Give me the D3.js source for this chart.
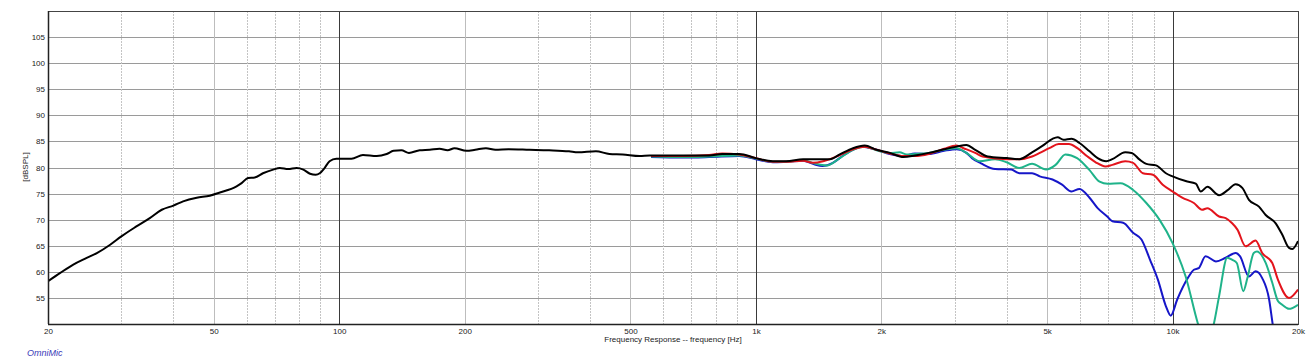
<!DOCTYPE html>
<html>
<head>
<meta charset="utf-8">
<script src="https://cdn.jsdelivr.net/npm/d3@7"></script>
<style>
  body { margin: 0; background: #fff; }
  svg { display: block; font-family: "Liberation Sans", Arial, sans-serif; }
  .tick text { font-size: 8px; fill: #222; }
  .domain { display: none; }
</style>
</head>
<body>
<svg id="chart" width="1311" height="361"></svg>
<script>
// tick values / labels
const yTicks = [55, 60, 65, 70, 75, 80, 85, 90, 95, 100, 105];
const xTicks = [20, 50, 100, 200, 500, 1000, 2000, 5000, 10000, 20000];
const xTickLabels = ["20", "50", "100", "200", "500", "1k", "2k", "5k", "10k", "20k"];
const decadeLines = [100, 1000, 10000];
const minorLines = [30, 40, 60, 70, 80, 90, 300, 400, 600, 700, 800, 900,
  3000, 4000, 6000, 7000, 8000, 9000];

// series: [frequency Hz, dBSPL]
const blackCurve = [[20,58.2],[21.4,59.8],[23,61.4],[24.5,62.5],[26.2,63.6],[28.2,65.2],[30,66.8],[32.6,68.7],
  [35.1,70.3],[37.5,71.9],[40,72.7],[42.2,73.5],[45.5,74.2],[48.9,74.6],[51.7,75.2],[56.7,76.4],[58.3,77.0],
  [60.4,78.0],[62.7,78.1],[65.6,78.9],[69.4,79.6],[72,79.9],[75.4,79.7],[79,79.9],[82,79.6],[85.1,78.8],
  [87.8,78.6],[89.8,78.9],[92.2,79.9],[94.8,81.2],[98.4,81.7],[107,81.7],[114,82.4],[123,82.2],[130,82.6],
  [135,83.2],[141,83.3],[147,82.8],[156,83.3],[165,83.4],[174,83.6],[182,83.3],[189,83.7],[202,83.2],
  [212,83.4],[225,83.7],[237,83.4],[255,83.5],[286,83.4],[319,83.3],[356,83.1],[374,82.9],[413,83.1],
  [445,82.6],[479,82.5],[526,82.2],[556,82.3],[667,82.3],[772,82.3],[830,82.6],[912,82.6],[1000,81.8],
  [1098,81.2],[1182,81.2],[1298,81.6],[1505,81.6],[1590,82.5],[1710,83.7],[1824,84.2],[1947,83.4],
  [2096,82.8],[2260,82.0],[2408,82.3],[2600,82.8],[2830,83.5],[3032,84.0],[3200,84.3],[3360,83.4],
  [3600,82.1],[4000,81.8],[4286,81.6],[4600,82.9],[4880,84.2],[5150,85.5],[5300,85.8],[5470,85.3],
  [5720,85.5],[5980,84.7],[6320,83.1],[6610,81.8],[6930,81.2],[7170,81.6],[7700,82.9],[7970,82.8],
  [8340,81.5],[8650,80.7],[9130,80.4],[9640,78.9],[10000,78.3],[10750,77.4],[11370,76.9],[11690,75.4],
  [12120,76.3],[12930,74.7],[13530,75.6],[14170,76.8],[14700,76.1],[15250,73.8],[16120,72.5],[16730,70.9],
  [17680,69.3],[18340,67.1],[19030,64.6],[19400,64.4],[20000,65.9]];

const redCurve = [[560,82.2],[667,82.2],[772,82.4],[830,82.7],[912,82.5],[1000,81.8],[1098,81.1],[1182,81.1],
  [1298,81.3],[1370,80.9],[1450,81.2],[1590,82.4],[1710,83.5],[1824,84.0],[1947,83.4],[2096,82.7],
  [2260,82.2],[2408,82.2],[2600,82.6],[2830,83.6],[3032,84.2],[3150,83.7],[3360,82.8],[3500,82.1],
  [4000,81.6],[4286,81.6],[4600,82.1],[4800,82.8],[5060,83.7],[5330,84.5],[5640,84.5],[5910,83.7],
  [6250,82.1],[6540,81.0],[6900,80.2],[7170,80.5],[7700,81.2],[8040,80.9],[8490,78.9],[8970,78.6],
  [9470,76.7],[10000,75.4],[10570,74.2],[11250,73.2],[11770,71.9],[12120,72.2],[12930,70.6],[13410,70.3],
  [13900,69.3],[14310,68.1],[14970,64.9],[15820,66.0],[16410,63.6],[17350,61.7],[17900,58.5],
  [19030,55.0],[20000,56.6]];

const greenCurve = [[560,82.1],[667,82.0],[772,82.1],[912,82.3],[1000,81.7],[1098,81.1],[1182,81.1],
  [1298,81.4],[1380,80.8],[1480,80.4],[1590,81.8],[1710,83.4],[1824,84.0],[1947,83.3],[2096,82.8],
  [2213,82.9],[2300,82.5],[2408,82.6],[2600,82.8],[2830,83.4],[3032,83.7],[3200,82.8],[3440,81.2],
  [3750,81.6],[4000,81.0],[4286,79.9],[4600,80.7],[4970,79.6],[5240,80.5],[5530,82.5],[5900,81.8],
  [6320,79.5],[6680,77.3],[6990,76.9],[7500,77.0],[8040,75.7],[8650,73.2],[9300,70.0],[10000,65.5],
  [10750,59.1],[11490,50.2],[11960,46],[12550,49.9],[12930,55.3],[13530,62.7],[13910,62.3],[14260,61.7],
  [14780,56.3],[15120,58.8],[15660,63.6],[15940,63.9],[16730,61.7],[17350,57.9],[17900,54.4],
  [18330,53.7],[19030,52.9],[20000,53.7]];

const blueCurve = [[560,82.0],[667,81.9],[772,82.0],[912,82.2],[1000,81.6],[1098,81.0],[1182,81.1],
  [1298,81.3],[1380,80.6],[1446,80.3],[1530,80.9],[1620,82.3],[1710,83.4],[1800,84.0],[1947,83.4],
  [2096,82.6],[2260,82.2],[2408,82.7],[2600,82.6],[2830,83.2],[3032,83.5],[3200,82.8],[3300,81.8],
  [3470,80.8],[3750,79.7],[4100,79.6],[4286,78.9],[4600,78.9],[4800,78.3],[5150,77.7],[5430,76.7],
  [5720,75.4],[5980,75.9],[6320,74.2],[6610,72.2],[6970,70.6],[7170,69.7],[7610,69.4],[8040,67.5],
  [8420,66.2],[8830,62.3],[9220,58.5],[9640,53.4],[9900,51.6],[10260,54.7],[10880,58.8],[11250,60.4],
  [11550,60.7],[12000,63.0],[12710,62.0],[13410,62.7],[14170,63.6],[14510,63.0],[15250,59.1],
  [15820,60.1],[16410,58.8],[17050,54.7],[17350,50.5],[17680,46]];

const series = [
  { name: "blue", data: blueCurve, color: "#1616c8" },
  { name: "green", data: greenCurve, color: "#1fb38a" },
  { name: "red", data: redCurve, color: "#e3141c" },
  { name: "black", data: blackCurve, color: "#000000" }
];

const svg = d3.select("#chart");
const margin = { top: 11, right: 13, bottom: 37, left: 48 };
const width = 1311, height = 361;

const x = d3.scaleLog()
  .domain([20, 20000])
  .range([margin.left, width - margin.right]);

const y = d3.scaleLinear()
  .domain([50, 110])
  .range([height - margin.bottom, margin.top]);

const plotW = x.range()[1] - x.range()[0];
const plotH = y.range()[0] - y.range()[1];

// horizontal grid
svg.append("g")
  .selectAll("line")
  .data(yTicks)
  .join("line")
  .attr("x1", x.range()[0]).attr("x2", x.range()[1])
  .attr("y1", d => Math.round(y(d)) + 0.5).attr("y2", d => Math.round(y(d)) + 0.5)
  .attr("stroke", "#9a9a9a");

// minor vertical grid (dotted)
svg.append("g")
  .selectAll("line")
  .data(minorLines)
  .join("line")
  .attr("x1", d => Math.round(x(d)) + 0.5).attr("x2", d => Math.round(x(d)) + 0.5)
  .attr("y1", y.range()[1]).attr("y2", y.range()[0])
  .attr("stroke", "#c4c4c4")
  .attr("stroke-dasharray", "2,1");

// labelled vertical grid
svg.append("g")
  .selectAll("line")
  .data(xTicks.filter(d => !decadeLines.includes(d)))
  .join("line")
  .attr("x1", d => Math.round(x(d)) + 0.5).attr("x2", d => Math.round(x(d)) + 0.5)
  .attr("y1", y.range()[1]).attr("y2", y.range()[0])
  .attr("stroke", "#bdbdbd");

// decade lines
svg.append("g")
  .selectAll("line")
  .data(decadeLines)
  .join("line")
  .attr("x1", d => Math.round(x(d)) + 0.5).attr("x2", d => Math.round(x(d)) + 0.5)
  .attr("y1", y.range()[1]).attr("y2", y.range()[0])
  .attr("stroke", "#3a3a3a");

// curves
svg.append("clipPath").attr("id", "plot-clip")
  .append("rect")
  .attr("x", x.range()[0]).attr("y", y.range()[1])
  .attr("width", plotW).attr("height", plotH);

const line = d3.line()
  .x(d => x(d[0]))
  .y(d => y(d[1]))
  .curve(d3.curveMonotoneX);

svg.append("g")
  .attr("clip-path", "url(#plot-clip)")
  .selectAll("path")
  .data(series)
  .join("path")
  .attr("d", d => line(d.data))
  .attr("fill", "none")
  .attr("stroke", d => d.color)
  .attr("stroke-width", 2)
  .attr("stroke-linejoin", "round");

// frame
svg.append("rect")
  .attr("x", x.range()[0] + 0.5).attr("y", y.range()[1] + 0.5)
  .attr("width", plotW).attr("height", plotH)
  .attr("fill", "none")
  .attr("stroke", "#444");
svg.append("line")
  .attr("x1", x.range()[0]).attr("x2", x.range()[1])
  .attr("y1", y.range()[0] + 0.5).attr("y2", y.range()[0] + 0.5)
  .attr("stroke", "#222").attr("stroke-width", 1.5);
svg.append("line")
  .attr("x1", x.range()[0] + 0.5).attr("x2", x.range()[0] + 0.5)
  .attr("y1", y.range()[1]).attr("y2", y.range()[0])
  .attr("stroke", "#222").attr("stroke-width", 1.5);

// axes
svg.append("g")
  .attr("transform", `translate(${x.range()[0] - 3},0)`)
  .call(d3.axisLeft(y).tickValues(yTicks).tickSize(0).tickPadding(0));

svg.append("g")
  .attr("transform", `translate(0,${y.range()[0] + 2})`)
  .call(d3.axisBottom(x).tickValues(xTicks).tickSize(0).tickPadding(2)
    .tickFormat((d, i) => xTickLabels[i]));

// axis titles
svg.append("text")
  .attr("x", 673).attr("y", 342)
  .attr("text-anchor", "middle")
  .style("font-size", "8px")
  .attr("fill", "#222")
  .text("Frequency Response -- frequency [Hz]");

svg.append("text")
  .attr("transform", "translate(28,167) rotate(-90)")
  .attr("text-anchor", "middle")
  .style("font-size", "8px")
  .attr("fill", "#222")
  .text("[dBSPL]");

svg.append("text")
  .attr("x", 27).attr("y", 356)
  .style("font-size", "9px")
  .style("font-style", "italic")
  .attr("fill", "#3a3ab8")
  .text("OmniMic");
</script>
</body>
</html>
